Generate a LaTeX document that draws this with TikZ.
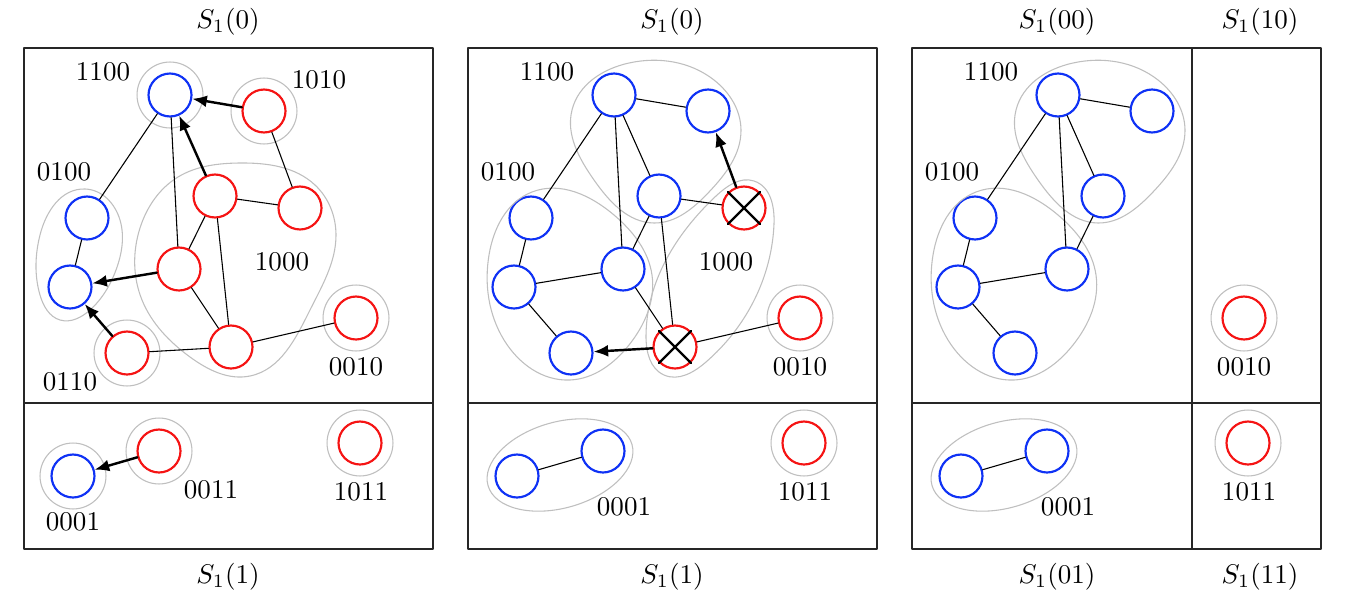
\documentclass[tikz,border=0pt]{standalone}
\usetikzlibrary{arrows.meta,hobby}
\definecolor{nblue}{RGB}{15,50,245}
\definecolor{nred}{RGB}{245,20,20}
\tikzset{
  vb/.style={circle, draw=nblue, line width=0.8pt, minimum size=15.9pt, inner sep=0pt},
  vr/.style={vb, draw=nred},
  halo/.style={draw=black!25, line width=0.4pt},
  mv/.style={-{Latex[length=5.4pt,width=4.4pt]}, line width=0.9pt},
  box/.style={line width=0.4pt, draw=black!85}
}
\begin{document}
\begin{tikzpicture}[x=0.37pt, y=-0.37pt, line join=round, line cap=round]
\useasboundingbox (0,0) rectangle (1354,605);
\def\hr{12.2pt}
% S_1(0) / S_1(1)
\begin{scope}
  \draw[box] (24,48) rectangle (433,549) (24,403) -- (433,403);
  \node (t1) at (228,22) {$S_1(0)$};
  \node (b1) at (228,577) {$S_1(1)$};
  \foreach \n/\p/\s in {A/{170,95}/vb, B/{264,111}/vr, C/{215,196}/vr, D/{300,208}/vr,
    E/{87,218}/vb, F/{70,287}/vb, G/{179,269}/vr, H/{127,353}/vr, I/{231,347}/vr,
    J/{356,318}/vr, K/{73,476}/vb, L/{159,451}/vr, M/{360,443}/vr}
    \node[\s] (\n1) at (\p) {};
  \foreach \n in {A1,B1,H1,J1,K1,L1,M1}
    \draw[halo] (\n) circle[radius=\hr];
  \draw[halo] plot[closed hobby] coordinates {(85,189) (120,220) (116,270) (90,310)
    (60,320) (40,295) (40,235)};
  \draw[halo] plot[closed hobby] coordinates {(240,163) (315,185) (336,235) (310,310)
    (250,376) (190,357) (142,300) (140,228) (178,177)};
  \draw (A1)--(E1) (E1)--(F1) (A1)--(G1) (B1)--(D1) (C1)--(D1) (C1)--(G1)
    (C1)--(I1) (G1)--(I1) (H1)--(I1) (I1)--(J1);
  \draw[mv] (C1)--(A1);
  \draw[mv] (B1)--(A1);
  \draw[mv] (G1)--(F1);
  \draw[mv] (H1)--(F1);
  \draw[mv] (L1)--(K1);
  \node (q1100a) at (103,72) {1100};
  \node (q1010a) at (319,80) {1010};
  \node (q0100a) at (64,172) {0100};
  \node (q1000a) at (282,262) {1000};
  \node (q0110a) at (70,382) {0110};
  \node (q0010a) at (356,367) {0010};
  \node (q0001a) at (73,522) {0001};
  \node (q0011a) at (211,490) {0011};
  \node (q1011a) at (361,492) {1011};
\end{scope}
% S_1(0) / S_1(1), after the move
\begin{scope}[shift={(444,0)}]
  \draw[box] (24,48) rectangle (433,549) (24,403) -- (433,403);
  \node (t2) at (228,22) {$S_1(0)$};
  \node (b2) at (228,577) {$S_1(1)$};
  \foreach \n/\p/\s in {A/{170,95}/vb, B/{264,111}/vb, C/{215,196}/vb, D/{300,208}/vr,
    E/{87,218}/vb, F/{70,287}/vb, G/{179,269}/vb, H/{127,353}/vb, I/{231,347}/vr,
    J/{356,318}/vr, K/{73,476}/vb, L/{159,451}/vb, M/{360,443}/vr}
    \node[\s] (\n2) at (\p) {};
  \foreach \n in {J2,M2}
    \draw[halo] (\n) circle[radius=\hr];
  \draw[halo] plot[closed hobby] coordinates {(128,110) (185,63) (270,80) (297,130)
    (265,192) (210,223) (150,180)};
  \draw[halo] plot[closed hobby] coordinates {(88,192) (170,215) (208,275) (185,345)
    (126,380) (60,340) (45,255)};
  \draw[halo] plot[closed hobby] coordinates {(310,181) (330,224) (262,362)
    (220,375) (202,336) (272,196)};
  \draw[halo, rotate around={16:(116,465)}] (116,465) ellipse[x radius=27.7pt, y radius=15.9pt];
  \draw (A2)--(B2) (A2)--(E2) (A2)--(G2) (A2)--(C2) (C2)--(D2) (C2)--(G2)
    (C2)--(I2) (E2)--(F2) (F2)--(G2) (F2)--(H2) (G2)--(I2) (I2)--(J2) (K2)--(L2);
  \draw[mv] (D2)--(B2);
  \draw[mv] (I2)--(H2);
  \foreach \n in {D2,I2}
    \draw[line width=0.9pt] (\n.45)--(\n.225) (\n.135)--(\n.315);
  \node (q1100b) at (103,72) {1100};
  \node (q0100b) at (64,172) {0100};
  \node (q1000b) at (282,262) {1000};
  \node (q0010b) at (356,367) {0010};
  \node (q0001b) at (180,507) {0001};
  \node (q1011b) at (361,492) {1011};
\end{scope}
% S_1(00), S_1(10), S_1(01), S_1(11)
\begin{scope}[shift={(888,0)}]
  \draw[box] (24,48) rectangle (433,549) (24,403) -- (433,403) (304,48) -- (304,549);
  \node (t3) at (169,22) {$S_1(00)$};
  \node (t4) at (372,22) {$S_1(10)$};
  \node (b3) at (169,577) {$S_1(01)$};
  \node (b4) at (372,577) {$S_1(11)$};
  \foreach \n/\p/\s in {A/{170,95}/vb, B/{264,111}/vb, C/{215,196}/vb,
    E/{87,218}/vb, F/{70,287}/vb, G/{179,269}/vb, H/{127,353}/vb,
    J/{356,318}/vr, K/{73,476}/vb, L/{159,451}/vb, M/{360,443}/vr}
    \node[\s] (\n3) at (\p) {};
  \foreach \n in {J3,M3}
    \draw[halo] (\n) circle[radius=\hr];
  \draw[halo] plot[closed hobby] coordinates {(128,110) (185,63) (270,80) (297,130)
    (265,192) (210,223) (150,180)};
  \draw[halo] plot[closed hobby] coordinates {(88,192) (170,215) (208,275) (185,345)
    (126,380) (60,340) (45,255)};
  \draw[halo, rotate around={16:(116,465)}] (116,465) ellipse[x radius=27.7pt, y radius=15.9pt];
  \draw (A3)--(B3) (A3)--(E3) (A3)--(G3) (A3)--(C3) (C3)--(G3)
    (E3)--(F3) (F3)--(G3) (F3)--(H3) (K3)--(L3);
  \node (q1100c) at (103,72) {1100};
  \node (q0100c) at (64,172) {0100};
  \node (q0010c) at (356,367) {0010};
  \node (q0001c) at (180,507) {0001};
  \node (q1011c) at (361,492) {1011};
\end{scope}
\end{tikzpicture}
\end{document}
